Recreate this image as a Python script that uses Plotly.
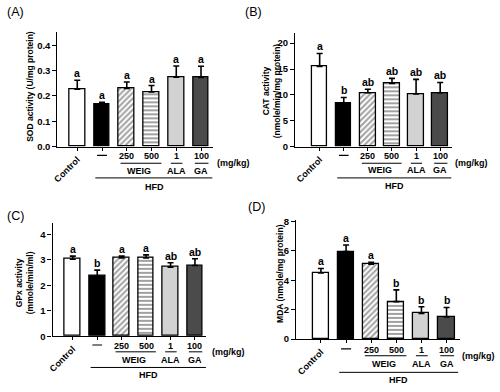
import plotly.graph_objects as go

groups = ["Control", "HFD", "WEIG 250", "WEIG 500", "ALA 1", "GA 100"]
sod = [0.227, 0.165, 0.230, 0.216, 0.274, 0.273]
sod_err = [0.035, 0.010, 0.025, 0.025, 0.044, 0.044]
sod_sig = ["a", "a", "a", "a", "a", "a"]
cat = [15.5, 8.4, 10.4, 12.2, 10.2, 10.4]
cat_err = [2.5, 1.1, 0.7, 1.0, 2.8, 2.0]
cat_sig = ["a", "b", "ab", "ab", "ab", "ab"]
gpx = [3.03, 2.38, 3.08, 3.08, 2.72, 2.78]
gpx_err = [0.12, 0.22, 0.07, 0.12, 0.17, 0.27]
gpx_sig = ["a", "b", "a", "a", "ab", "ab"]
mda = [4.5, 5.95, 5.1, 2.55, 1.75, 1.5]
mda_err = [0.3, 0.45, 0.12, 0.8, 0.45, 0.65]
mda_sig = ["a", "a", "a", "b", "b", "b"]

dose_labels = ["", "", "250", "500", "1", "100"]

W, H = 500, 392
FONT = "Arial, Liberation Sans, sans-serif"
fill_colors = ["white", "black", "white", "white", "#d2d2d2", "#4b4b4b"]
patterns = ["", "", "/", "-", "", ""]

panels = [
    dict(vals=sod, err=sod_err, sig=sod_sig, title="SOD activity (U/mg protein)", lab="(A)",
         xpx=(53, 210), ypx=(146, 29), xr=(-0.8, 5.48), yr=(0, 0.451), dtick=0.1, fmt=".1f",
         tpos=(25, 84), labpos=(0, 8), mgx=213, offs=(10, 17, 25, 32, 41)),
    dict(vals=cat, err=cat_err, sig=cat_sig, title="CAT activity<br>(nmole/min/mg protein)", lab="(B)",
         xpx=(293, 452), ypx=(146, 30), xr=(-1.02, 5.51), yr=(0, 21.9), dtick=5, fmt="d",
         tpos=(270, 89), labpos=(240, 8), mgx=454, offs=(10, 17, 24, 32, 40)),
    dict(vals=gpx, err=gpx_err, sig=gpx_sig, title="GPx activity<br>(mmole/min/ml)", lab="(C)",
         xpx=(48, 203), ypx=(340, 224), xr=(-0.83, 5.45), yr=(0, 4.46), dtick=1, fmt="d",
         tpos=(20, 285), labpos=(0, 217), mgx=208, offs=(10, 16, 24, 32, 40)),
    dict(vals=mda, err=mda_err, sig=mda_sig, title="MDA (nmole/mg protein)", lab="(D)",
         xpx=(294, 460), ypx=(343, 221), xr=(-0.99, 5.55), yr=(0, 8.1), dtick=2, fmt="d",
         tpos=(277, 276), labpos=(243, 208), mgx=461, offs=(11, 17, 25, 34, 42)),
]

fig = go.Figure()
annotations = []
shapes = []


def py(p):
    return 1 - p / H


for k, p in enumerate(panels):
    n = "" if k == 0 else str(k + 1)
    xa, ya = "x" + n, "y" + n
    xs = list(range(len(groups)))
    fig.add_trace(go.Bar(
        x=xs, y=p["vals"], xaxis=xa, yaxis=ya, width=0.64,
        marker=dict(color=fill_colors, line=dict(color="black", width=1.3),
                    pattern=dict(shape=patterns, fgcolor="black", size=4, solidity=0.5,
                                 fillmode="overlay")),
        error_y=dict(type="data", array=p["err"], arrayminus=[0] * 6, symmetric=False,
                     color="black", thickness=1.6, width=3),
        showlegend=False, hoverinfo="skip",
    ))
    fig.layout["xaxis" + n] = dict(
        domain=[p["xpx"][0] / W, p["xpx"][1] / W], anchor=ya, range=list(p["xr"]),
        showline=True, linecolor="black", linewidth=1.3, ticks="outside", ticklen=3,
        tickcolor="black", tickvals=xs, ticktext=["Control", "", "", "", "", ""],
        tickangle=-45, tickfont=dict(family=FONT, size=9, color="black", weight="bold"),
        showgrid=False, zeroline=False, fixedrange=True)
    fig.layout["yaxis" + n] = dict(
        domain=[py(p["ypx"][0]), py(p["ypx"][1])], anchor=xa, range=list(p["yr"]),
        dtick=p["dtick"], tick0=0, tickformat=p["fmt"],
        showline=True, linecolor="black", linewidth=1.3, ticks="outside", ticklen=4,
        tickcolor="black", tickfont=dict(family=FONT, size=9.5, color="black", weight="bold"),
        showgrid=False, zeroline=False, fixedrange=True)

    # significance letters
    for i in xs:
        annotations.append(dict(x=i, y=p["vals"][i] + p["err"][i], xref=xa, yref=ya,
                                text="<b>%s</b>" % p["sig"][i], showarrow=False,
                                yanchor="bottom", yshift=-1,
                                font=dict(family=FONT, size=10.5, color="black")))

    y0 = p["ypx"][0]
    o_num, o_ul, o_grp, o_long, o_hfd = p["offs"]
    tfont = dict(family=FONT, size=9, color="black")
    # dose row
    for i in xs:
        if dose_labels[i]:
            annotations.append(dict(x=i, y=py(y0 + o_num), xref=xa, yref="paper",
                                    text="<b>%s</b>" % dose_labels[i], showarrow=False,
                                    yanchor="middle", font=tfont))
    annotations.append(dict(x=p["mgx"] / W, y=py(y0 + o_ul), xref="paper", yref="paper",
                            text="<b>(mg/kg)</b>", showarrow=False, xanchor="left",
                            yanchor="middle", borderpad=0, font=tfont))
    # dash for HFD alone
    shapes.append(dict(type="line", xref=xa, yref="paper", x0=0.8, x1=1.2,
                       y0=py(y0 + o_num - 1), y1=py(y0 + o_num - 1),
                       line=dict(color="black", width=1.2)))
    # underlines
    for (a, b) in [(1.75, 3.4), (3.78, 4.25), (4.75, 5.3)]:
        shapes.append(dict(type="line", xref=xa, yref="paper", x0=a, x1=b,
                           y0=py(y0 + o_ul), y1=py(y0 + o_ul), line=dict(color="black", width=1)))
    for (xx, t) in [(2.5, "WEIG"), (4, "ALA"), (5, "GA")]:
        annotations.append(dict(x=xx, y=py(y0 + o_grp), xref=xa, yref="paper",
                                text="<b>%s</b>" % t, showarrow=False, yanchor="middle",
                                font=tfont))
    shapes.append(dict(type="line", xref=xa, yref="paper", x0=0.73, x1=5.46,
                       y0=py(y0 + o_long), y1=py(y0 + o_long), line=dict(color="black", width=1)))
    annotations.append(dict(x=3.1, y=py(y0 + o_hfd), xref=xa, yref="paper",
                            text="<b>HFD</b>", showarrow=False, yanchor="middle", font=tfont))
    # y title
    annotations.append(dict(x=p["tpos"][0] / W, y=py(p["tpos"][1]), xref="paper", yref="paper",
                            text="<b>%s</b>" % p["title"], showarrow=False, textangle=-90,
                            xanchor="center", yanchor="middle",
                            font=dict(family=FONT, size=8.5, color="black")))
    # panel label
    annotations.append(dict(x=p["labpos"][0] / W, y=py(p["labpos"][1]), xref="paper", yref="paper",
                            text=p["lab"], showarrow=False, xanchor="left", yanchor="middle",
                            font=dict(family=FONT, size=12.5, color="black")))

fig.update_layout(width=W, height=H, margin=dict(l=0, r=0, t=0, b=0),
                  paper_bgcolor="white", plot_bgcolor="white",
                  annotations=annotations, shapes=shapes, bargap=0)
fig.write_html("out.html", config={"displayModeBar": False},
               post_script="document.body.style.margin='0';document.body.style.overflow='hidden';")
